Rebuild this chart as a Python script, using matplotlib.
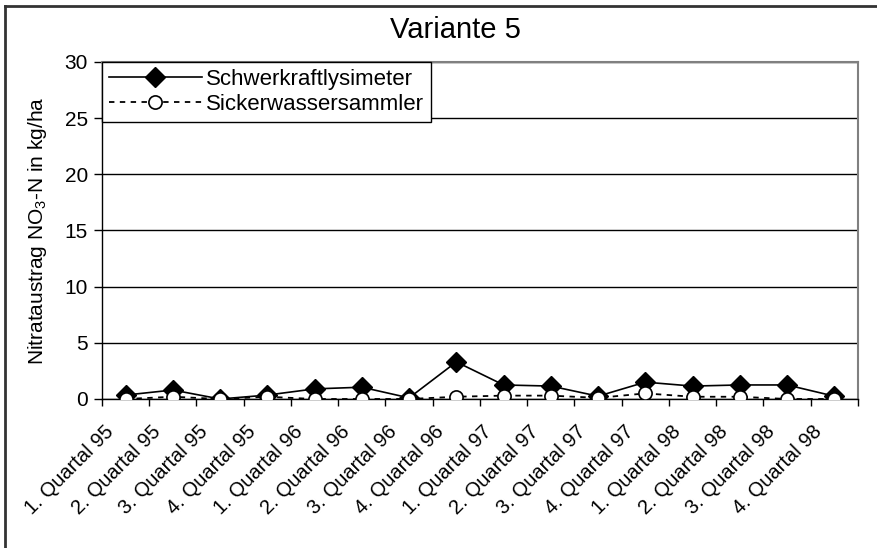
import numpy as np
import matplotlib
matplotlib.use("Agg")
import matplotlib.pyplot as plt
from matplotlib.lines import Line2D
from matplotlib.transforms import ScaledTranslation

plt.rcParams.update({
    "font.family": ["Liberation Sans", "DejaVu Sans"],
    "mathtext.default": "regular",
})

quartale = [
    "1. Quartal 95", "2. Quartal 95", "3. Quartal 95", "4. Quartal 95",
    "1. Quartal 96", "2. Quartal 96", "3. Quartal 96", "4. Quartal 96",
    "1. Quartal 97", "2. Quartal 97", "3. Quartal 97", "4. Quartal 97",
    "1. Quartal 98", "2. Quartal 98", "3. Quartal 98", "4. Quartal 98",
]
schwerkraft = [0.35, 0.8, 0.0, 0.35, 0.9, 1.05, 0.1, 3.3,
               1.25, 1.15, 0.25, 1.5, 1.15, 1.25, 1.25, 0.25]
sickerwasser = [0.0, 0.2, 0.0, 0.2, 0.0, 0.0, 0.0, 0.2,
                0.3, 0.3, 0.1, 0.5, 0.2, 0.2, 0.0, 0.0]
y_ticks = [0, 5, 10, 15, 20, 25, 30]


def main():
    fig = plt.figure(figsize=(8.77, 5.48), dpi=100)
    ax = fig.add_axes([0.1163, 0.2719, 0.862, 0.615])

    x = np.arange(len(quartale))
    ax.plot(x, schwerkraft, color="black", lw=1.2, marker="D", ms=10.5,
            mfc="black", mec="black", label="Schwerkraftlysimeter", zorder=3)
    ax.plot(x, sickerwasser, color="black", lw=1.3, ls=(0, (3, 3)), marker="o",
            ms=9.5, mfc="white", mec="black", mew=1.2,
            label="Sickerwassersammler", zorder=4)

    ax.set_xlim(-0.5, len(quartale) - 0.5)
    ax.set_ylim(0, 30)
    ax.set_yticks(y_ticks)
    ax.set_yticklabels([str(v) for v in y_ticks], fontsize=15)

    # category labels: slanted, ending left of and below each point
    ax.set_xticks(x)
    ax.set_xticklabels([])
    shift = ScaledTranslation(-0.15, -0.30, fig.dpi_scale_trans)
    for xi, name in zip(x, quartale):
        ax.text(xi, 0, name, transform=ax.get_xaxis_transform() + shift,
                rotation=45, ha="right", va="center", rotation_mode="anchor",
                fontsize=14.5)

    ax.set_xticks(np.arange(len(quartale) + 1) - 0.5, minor=True)
    ax.tick_params(axis="x", which="major", length=0, pad=0)
    ax.tick_params(axis="x", which="minor", length=5, direction="out", width=1)
    ax.tick_params(axis="y", length=6, direction="out", width=1, pad=4)

    ax.grid(axis="y", color="black", lw=1)
    ax.set_axisbelow(True)
    for side in ("left", "bottom"):
        ax.spines[side].set_color("black")
        ax.spines[side].set_linewidth(1)
    for side in ("top", "right"):
        ax.spines[side].set_color("#808080")
        ax.spines[side].set_linewidth(1.5)

    ax.set_ylabel(r"Nitrataustrag NO$_3$-N in kg/ha", fontsize=15, labelpad=11)
    fig.text(0.519, 0.945, "Variante 5", fontsize=21, ha="center", va="center")

    leg = ax.legend(loc="upper left", bbox_to_anchor=(0, 1), borderaxespad=0,
                    fontsize=16, handlelength=4.2, frameon=True, fancybox=False,
                    framealpha=1, edgecolor="black", borderpad=0.3,
                    labelspacing=0.2, handletextpad=0.2)
    leg.get_frame().set_linewidth(1)
    leg.set_zorder(5)

    # outer frame (left and top edges)
    fig.add_artist(Line2D([0.006, 0.006], [0.0, 0.989], color="#333333", lw=2))
    fig.add_artist(Line2D([0.006, 1.0], [0.989, 0.989], color="#333333", lw=2))

    fig.savefig("out.png", dpi=100)


if __name__ == "__main__":
    main()
